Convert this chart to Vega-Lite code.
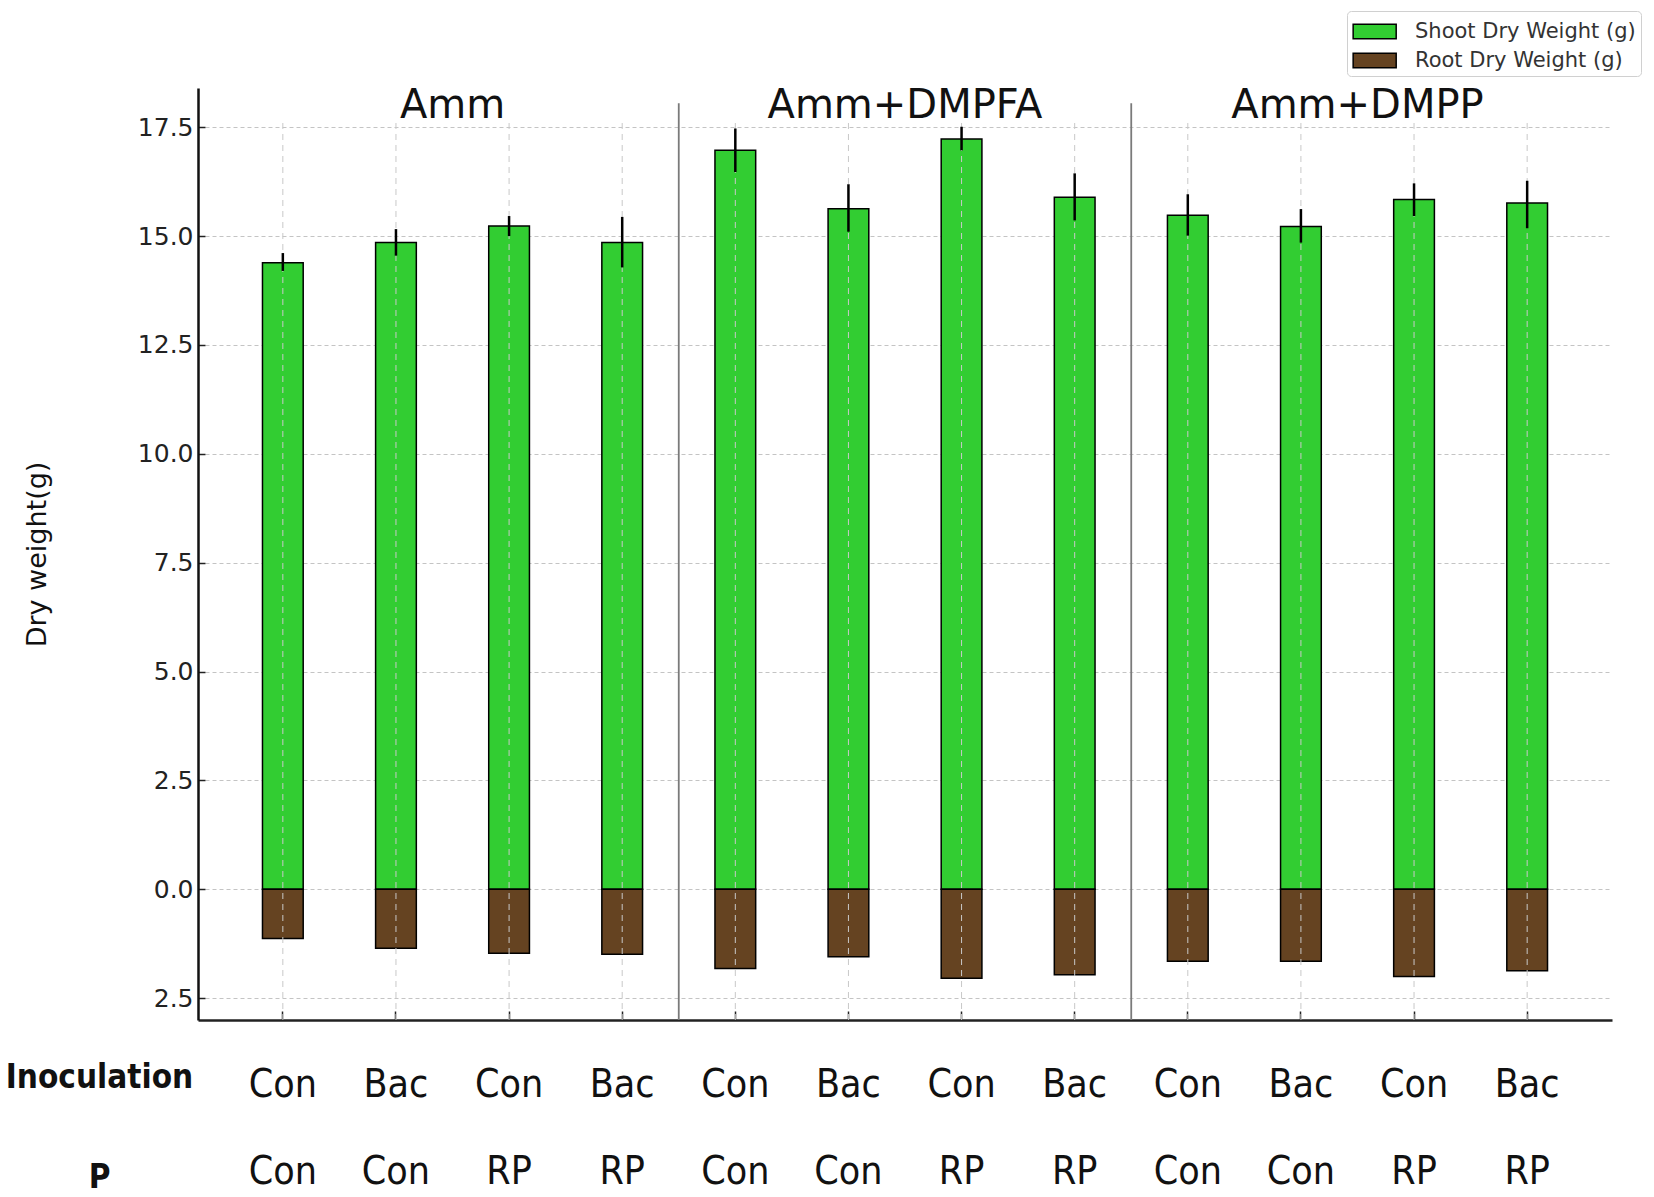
{
  "$schema": "https://vega.github.io/schema/vega-lite/v6.json",
  "width": 1414,
  "height": 932,
  "autosize": {"type": "none"},
  "padding": {"left": 198, "top": 88, "right": 42, "bottom": 177},
  "background": "white",
  "config": {"view": {"stroke": null}, "font": "DejaVu Sans"},
  "datasets": {
    "weights": [
      {"cat": "Amm|Con|Con", "part": "Shoot Dry Weight (g)", "value": 14.39, "lo": 14.2, "hi": 14.61},
      {"cat": "Amm|Bac|Con", "part": "Shoot Dry Weight (g)", "value": 14.85, "lo": 14.55, "hi": 15.16},
      {"cat": "Amm|Con|RP", "part": "Shoot Dry Weight (g)", "value": 15.23, "lo": 15.0, "hi": 15.46},
      {"cat": "Amm|Bac|RP", "part": "Shoot Dry Weight (g)", "value": 14.85, "lo": 14.28, "hi": 15.44},
      {"cat": "Amm+DMPFA|Con|Con", "part": "Shoot Dry Weight (g)", "value": 16.97, "lo": 16.47, "hi": 17.47},
      {"cat": "Amm+DMPFA|Bac|Con", "part": "Shoot Dry Weight (g)", "value": 15.63, "lo": 15.1, "hi": 16.19},
      {"cat": "Amm+DMPFA|Con|RP", "part": "Shoot Dry Weight (g)", "value": 17.23, "lo": 16.97, "hi": 17.51},
      {"cat": "Amm+DMPFA|Bac|RP", "part": "Shoot Dry Weight (g)", "value": 15.89, "lo": 15.36, "hi": 16.44},
      {"cat": "Amm+DMPP|Con|Con", "part": "Shoot Dry Weight (g)", "value": 15.48, "lo": 15.01, "hi": 15.96},
      {"cat": "Amm+DMPP|Bac|Con", "part": "Shoot Dry Weight (g)", "value": 15.22, "lo": 14.85, "hi": 15.62},
      {"cat": "Amm+DMPP|Con|RP", "part": "Shoot Dry Weight (g)", "value": 15.84, "lo": 15.46, "hi": 16.21},
      {"cat": "Amm+DMPP|Bac|RP", "part": "Shoot Dry Weight (g)", "value": 15.76, "lo": 15.18, "hi": 16.27},
      {"cat": "Amm|Con|Con", "part": "Root Dry Weight (g)", "value": -1.13},
      {"cat": "Amm|Bac|Con", "part": "Root Dry Weight (g)", "value": -1.35},
      {"cat": "Amm|Con|RP", "part": "Root Dry Weight (g)", "value": -1.47},
      {"cat": "Amm|Bac|RP", "part": "Root Dry Weight (g)", "value": -1.49},
      {"cat": "Amm+DMPFA|Con|Con", "part": "Root Dry Weight (g)", "value": -1.82},
      {"cat": "Amm+DMPFA|Bac|Con", "part": "Root Dry Weight (g)", "value": -1.55},
      {"cat": "Amm+DMPFA|Con|RP", "part": "Root Dry Weight (g)", "value": -2.04},
      {"cat": "Amm+DMPFA|Bac|RP", "part": "Root Dry Weight (g)", "value": -1.96},
      {"cat": "Amm+DMPP|Con|Con", "part": "Root Dry Weight (g)", "value": -1.65},
      {"cat": "Amm+DMPP|Bac|Con", "part": "Root Dry Weight (g)", "value": -1.65},
      {"cat": "Amm+DMPP|Con|RP", "part": "Root Dry Weight (g)", "value": -2.0},
      {"cat": "Amm+DMPP|Bac|RP", "part": "Root Dry Weight (g)", "value": -1.87}
    ],
    "separators": [
      {"cat": "Amm|Bac|RP"},
      {"cat": "Amm+DMPFA|Bac|RP"}
    ],
    "groups": [
      {"cat": "Amm|Bac|Con", "label": "Amm"},
      {"cat": "Amm+DMPFA|Bac|Con", "label": "Amm+DMPFA"},
      {"cat": "Amm+DMPP|Bac|Con", "label": "Amm+DMPP"}
    ]
  },
  "layer": [
    {
      "data": {"name": "weights"},
      "mark": {"type": "bar", "width": {"band": 0.36}, "stroke": "black", "strokeWidth": 1.5, "opacity": 1},
      "encoding": {
        "x": {
          "field": "cat",
          "type": "nominal",
          "scale": {
            "domain": [
              "Amm|Con|Con", "Amm|Bac|Con", "Amm|Con|RP", "Amm|Bac|RP",
              "Amm+DMPFA|Con|Con", "Amm+DMPFA|Bac|Con", "Amm+DMPFA|Con|RP", "Amm+DMPFA|Bac|RP",
              "Amm+DMPP|Con|Con", "Amm+DMPP|Bac|Con", "Amm+DMPP|Con|RP", "Amm+DMPP|Bac|RP"
            ],
            "paddingInner": 0,
            "paddingOuter": 0.25
          },
          "axis": {
            "title": ["Inoculation", "P"],
            "labelExpr": "[split(datum.value, '|')[1], split(datum.value, '|')[2]]",
            "labelAngle": 0,
            "labelOverlap": false,
            "labelFont": "DejaVu Sans Condensed, Liberation Sans Narrow, DejaVu Sans, sans-serif",
            "labelFontSize": 39,
            "labelLineHeight": 87,
            "labelBaseline": "alphabetic",
            "labelPadding": 85,
            "labelColor": "#111111",
            "tickSize": -9,
            "tickWidth": 1.5,
            "tickColor": "#222222",
            "domainColor": "#222222",
            "domainWidth": 2.5,
            "grid": false,
            "bandPosition": 0.5,
            "titleFont": "DejaVu Sans Condensed, Liberation Sans Narrow, DejaVu Sans, sans-serif",
            "titleFontWeight": "bold",
            "titleFontSize": 33,
            "titleLineHeight": 100,
            "titleAngle": 0,
            "titleAlign": "center",
            "titleBaseline": "alphabetic",
            "titleX": -99,
            "titleY": 67,
            "titleColor": "#111111"
          }
        },
        "y": {
          "field": "value",
          "type": "quantitative",
          "stack": null,
          "scale": {"domain": [-3, 18.4], "nice": false, "zero": false},
          "axis": {
            "title": "Dry weight(g)",
            "values": [-2.5, 0, 2.5, 5, 7.5, 10, 12.5, 15, 17.5],
            "labelExpr": "format(abs(datum.value), '.1f')",
            "labelFont": "DejaVu Sans",
            "labelFontSize": 25,
            "labelColor": "#222222",
            "labelPadding": 12,
            "tickSize": -7,
            "tickWidth": 1.5,
            "tickColor": "#222222",
            "domainColor": "#111111",
            "domainWidth": 2.5,
            "grid": true,
            "gridDash": [4, 3],
            "gridColor": "#c4c4c4",
            "gridWidth": 1,
            "titleFont": "DejaVu Sans",
            "titleFontSize": 27,
            "titleFontWeight": "normal",
            "titleColor": "#111111",
            "titlePadding": 86
          }
        },
        "color": {
          "field": "part",
          "type": "nominal",
          "scale": {
            "domain": ["Shoot Dry Weight (g)", "Root Dry Weight (g)"],
            "range": ["#32CD32", "#654321"]
          },
          "legend": {
            "title": null,
            "orient": "none",
            "legendX": 1149,
            "legendY": -77,
            "symbolType": "M-1,-0.5L2,-0.5L2,0.5L-1,0.5Z",
            "symbolSize": 823,
            "symbolStrokeColor": "black",
            "symbolStrokeWidth": 1.5,
            "symbolOpacity": 1,
            "labelFont": "DejaVu Sans",
            "labelFontSize": 21,
            "labelColor": "#333333",
            "labelLimit": 400,
            "labelOffset": 32,
            "padding": 5,
            "rowPadding": 3,
            "strokeColor": "#d0d0d0",
            "cornerRadius": 4,
            "fillColor": "white"
          }
        }
      }
    },
    {
      "data": {"name": "weights"},
      "transform": [{"filter": "datum.hi != null"}],
      "mark": {"type": "rule", "color": "#c8c8c8", "strokeWidth": 1, "strokeDash": [6, 5]},
      "encoding": {
        "x": {"field": "cat", "type": "nominal"},
        "y": {"datum": -3},
        "y2": {"datum": 17.62}
      }
    },
    {
      "data": {"name": "weights"},
      "transform": [{"filter": "datum.hi != null"}],
      "mark": {"type": "rule", "color": "black", "strokeWidth": 2.5},
      "encoding": {
        "x": {"field": "cat", "type": "nominal"},
        "y": {"field": "lo", "type": "quantitative"},
        "y2": {"field": "hi"}
      }
    },
    {
      "data": {"name": "separators"},
      "mark": {"type": "rule", "color": "#7a7a7a", "strokeWidth": 1.8},
      "encoding": {
        "x": {"field": "cat", "type": "nominal", "bandPosition": 1},
        "y": {"datum": 18.05},
        "y2": {"datum": -3}
      }
    },
    {
      "data": {"name": "groups"},
      "mark": {"type": "text", "font": "DejaVu Sans", "fontSize": 40, "align": "center", "baseline": "alphabetic", "color": "#111111"},
      "encoding": {
        "x": {"field": "cat", "type": "nominal", "bandPosition": 1},
        "y": {"datum": 17.71},
        "text": {"field": "label"}
      }
    }
  ]
}
